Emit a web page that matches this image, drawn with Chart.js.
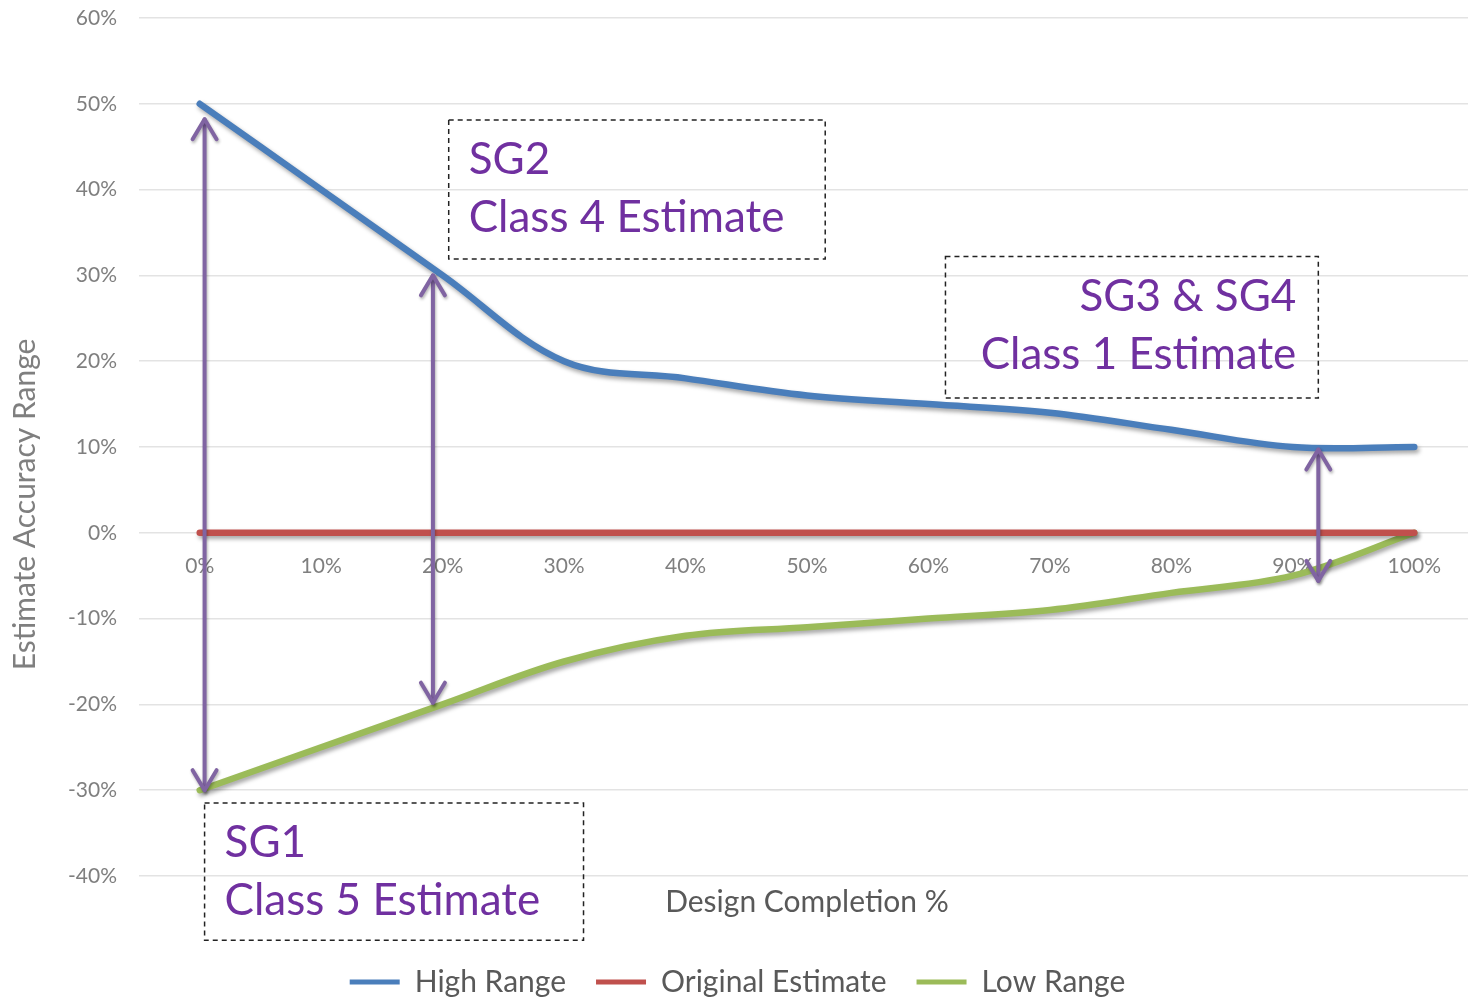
<!DOCTYPE html>
<html>
<head>
<meta charset="utf-8">
<script src="https://cdn.jsdelivr.net/npm/chart.js@4.4.1/dist/chart.umd.min.js"></script>
<style>
  html, body { margin: 0; padding: 0; background: #fff; overflow: hidden; }
  .chart { position: relative; width: 1476px; height: 1007px; }
</style>
</head>
<body>
<div class="chart"><canvas id="chart"></canvas></div>
<script>
// x categories (design completion)
const completion = ['0%', '10%', '20%', '30%', '40%', '50%', '60%', '70%', '80%', '90%', '100%'];

// series values, in percent
const highRange = [50, 40, 30, 20, 18, 16, 15, 14, 12, 10, 10];
const originalEstimate = [0, 0, 0, 0, 0, 0, 0, 0, 0, 0, 0];
const lowRange = [-30, -25, -20, -15, -12, -11, -10, -9, -7, -5, 0];

// value axis range
const yMin = -40;
const yMax = 60;
const yStep = 10;

// double arrows: x in category index units, y in percent
const arrows = [
    { at: 0.04, from: -30, to: 48.2 },
    { at: 1.92, from: -19.8, to: 30 },
    { at: 9.21, from: -5.6, to: 9.7 }
];

// dashed note boxes: [x1, x2] in category index units, [yTop, yBottom] in percent
const notes = [
    { lines: ['SG2', 'Class 4 Estimate'], x: [2.05, 5.15], y: [48.1, 31.9], align: 'left' },
    { lines: ['SG3 & SG4', 'Class 1 Estimate'], x: [6.14, 9.21], y: [32.2, 15.7], align: 'right' },
    { lines: ['SG1', 'Class 5 Estimate'], x: [0.04, 3.16], y: [-31.5, -47.5], align: 'left' }
];

const purple = '#8064A2';
const noteColor = '#7030A0';

Chart.defaults.font.family = 'Lato';

const shadowPlugin = {
    id: 'shadow',
    beforeDatasetsDraw(chart) {
        const ctx = chart.ctx;
        ctx.save();
        ctx.shadowColor = 'rgba(0, 0, 0, 0.35)';
        ctx.shadowBlur = 4;
        ctx.shadowOffsetX = 2;
        ctx.shadowOffsetY = 3;
    },
    afterDatasetsDraw(chart) {
        chart.ctx.restore();
    }
};

function head(ctx, x, y, dir) {
    ctx.beginPath();
    ctx.moveTo(x - 12, y + dir * 20);
    ctx.lineTo(x, y);
    ctx.lineTo(x + 12, y + dir * 20);
    ctx.stroke();
}

const notesPlugin = {
    id: 'notes',
    afterDraw(chart) {
        const { ctx, scales: { x, y } } = chart;

        // arrows
        ctx.save();
        ctx.strokeStyle = purple;
        ctx.lineWidth = 4;
        ctx.lineCap = 'round';
        ctx.lineJoin = 'round';
        ctx.shadowColor = 'rgba(0, 0, 0, 0.3)';
        ctx.shadowBlur = 3;
        ctx.shadowOffsetX = 1;
        ctx.shadowOffsetY = 2;
        arrows.forEach(a => {
            const px = x.getPixelForValue(a.at);
            const top = y.getPixelForValue(a.to);
            const bottom = y.getPixelForValue(a.from);
            ctx.beginPath();
            ctx.moveTo(px, top);
            ctx.lineTo(px, bottom);
            ctx.stroke();
            head(ctx, px, top, 1);
            head(ctx, px, bottom, -1);
        });
        ctx.restore();

        // note boxes
        ctx.save();
        notes.forEach(n => {
            const left = x.getPixelForValue(n.x[0]);
            const right = x.getPixelForValue(n.x[1]);
            const top = y.getPixelForValue(n.y[0]);
            const bottom = y.getPixelForValue(n.y[1]);
            ctx.setLineDash([5, 4]);
            ctx.strokeStyle = '#222';
            ctx.lineWidth = 1.5;
            ctx.strokeRect(left, top, right - left, bottom - top);
            ctx.setLineDash([]);
            ctx.fillStyle = noteColor;
            ctx.font = '44px Lato';
            ctx.textBaseline = 'middle';
            ctx.textAlign = n.align;
            const tx = n.align === 'left' ? left + 20 : right - 22;
            ctx.fillText(n.lines[0], tx, top + 40);
            ctx.fillText(n.lines[1], tx, top + 98);
        });
        ctx.restore();

        // value axis title
        ctx.save();
        ctx.translate(25, y.getPixelForValue(3.3));
        ctx.rotate(-Math.PI / 2);
        ctx.fillStyle = '#7f7f7f';
        ctx.font = '30px Lato';
        ctx.textAlign = 'center';
        ctx.textBaseline = 'middle';
        ctx.fillText('Estimate Accuracy Range', 0, 0);
        ctx.restore();
    }
};

const lineStyle = (color) => ({
    borderColor: color,
    backgroundColor: color,
    borderWidth: 6.5,
    borderCapStyle: 'round',
    pointRadius: 0,
    tension: 0.35,
    fill: false
});

new Chart(document.getElementById('chart'), {
    type: 'line',
    data: {
        labels: completion,
        datasets: [
            { label: 'High Range', data: highRange, ...lineStyle('#4A7EBB') },
            { label: 'Original Estimate', data: originalEstimate, ...lineStyle('#C0504D') },
            { label: 'Low Range', data: lowRange, ...lineStyle('#9BBB59') }
        ]
    },
    options: {
        responsive: true,
        maintainAspectRatio: false,
        animation: false,
        layout: { padding: { top: 18, right: 1, left: 0, bottom: 0 } },
        plugins: {
            tooltip: { enabled: false },
            legend: {
                position: 'bottom',
                labels: {
                    boxWidth: 50,
                    boxHeight: 5,
                    padding: 30,
                    color: '#595959',
                    font: { size: 30 },
                    generateLabels(chart) {
                        return chart.data.datasets.map((ds, i) => ({
                            text: ds.label,
                            fillStyle: ds.borderColor,
                            strokeStyle: ds.borderColor,
                            lineWidth: 0,
                            fontColor: '#595959',
                            datasetIndex: i
                        }));
                    }
                }
            }
        },
        scales: {
            x: {
                type: 'category',
                offset: true,
                position: { y: 0 },
                grid: { display: false },
                border: { display: false },
                ticks: { color: '#7f7f7f', font: { size: 21 }, padding: 13, maxRotation: 0 },
                afterFit(s) { s.height = 0; }
            },
            xTitle: {
                type: 'category',
                position: 'bottom',
                offset: true,
                grid: { display: false },
                border: { display: false },
                ticks: { display: false },
                title: {
                    display: true,
                    text: 'Design Completion %',
                    color: '#595959',
                    font: { size: 30 },
                    padding: { top: 0, bottom: 17 }
                },
                afterFit(s) { s.height = 61; }
            },
            y: {
                min: yMin,
                max: yMax,
                ticks: {
                    stepSize: yStep,
                    color: '#7f7f7f',
                    font: { size: 21 },
                    padding: 22,
                    callback: v => v + '%'
                },
                grid: { color: '#e3e3e3', lineWidth: 1.5, drawTicks: false },
                border: { display: false },
                afterFit(s) {
                    s.width = 139;
                    s.paddingTop = 0;
                    s.paddingBottom = 0;
                }
            }
        }
    },
    plugins: [shadowPlugin, notesPlugin]
});
</script>
</body>
</html>
